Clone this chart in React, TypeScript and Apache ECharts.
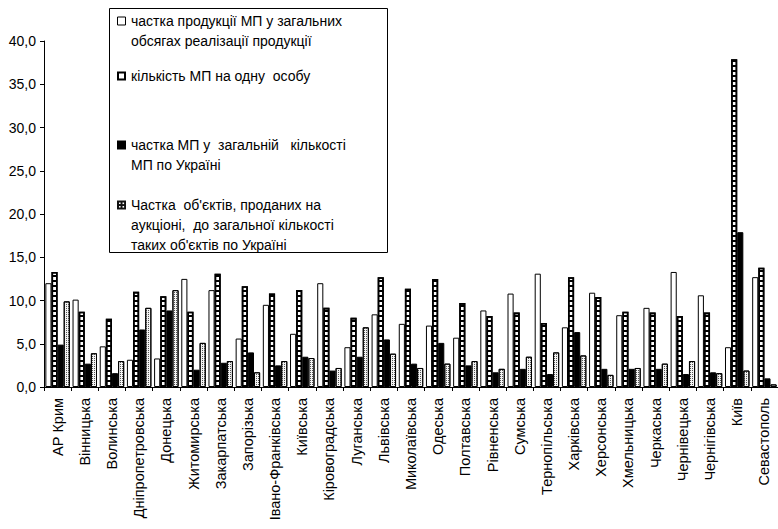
import React, { useEffect, useRef } from 'react';
import * as echarts from 'echarts';

const categories = [
  'АР Крим', 'Вінницька', 'Волинська', 'Дніпропетровська', 'Донецька', 'Житомирська',
  'Закарпатська', 'Запорізька', 'Івано-Франківська', 'Київська', 'Кіровоградська',
  'Луганська', 'Львівська', 'Миколаївська', 'Одеська', 'Полтавська', 'Рівненська',
  'Сумська', 'Тернопільська', 'Харківська', 'Херсонська', 'Хмельницька', 'Черкаська',
  'Чернівецька', 'Чернігівська', 'Київ', 'Севастополь',
];

const productionShare = [12.0, 10.1, 4.7, 3.15, 3.3, 12.5, 11.2, 5.6, 9.5, 6.15, 12.0, 4.6, 8.4, 7.3, 7.1, 5.7, 8.85, 10.8, 13.1, 6.9, 10.9, 8.3, 9.15, 13.3, 10.6, 4.6, 12.7];
const enterprisesPerPerson = [13.3, 8.7, 7.9, 11.0, 10.5, 8.7, 13.1, 11.65, 10.8, 11.2, 9.15, 8.0, 12.7, 11.35, 12.5, 9.7, 8.2, 8.6, 7.4, 12.7, 10.4, 8.7, 8.6, 8.2, 8.6, 37.9, 13.8];
const enterpriseShare = [4.9, 2.7, 1.6, 6.65, 8.85, 2.0, 2.8, 4.0, 2.5, 3.5, 1.9, 3.5, 5.5, 2.7, 5.1, 2.5, 1.7, 2.1, 1.5, 6.35, 2.1, 2.1, 2.1, 1.5, 1.7, 17.9, 1.0];
const auctionShare = [9.9, 3.9, 3.0, 9.15, 11.2, 5.1, 3.0, 1.7, 3.0, 3.35, 2.2, 6.9, 3.85, 2.2, 2.7, 3.0, 2.1, 3.5, 4.0, 3.65, 1.4, 2.2, 2.7, 3.0, 1.6, 1.9, 0.3];

const seriesLines = [
  ['частка продукції МП у загальних', 'обсягах реалізації продукції'],
  ['кількість МП на одну  особу'],
  ['частка МП у  загальній   кількості', 'МП по Україні'],
  ["Частка  об'єктів, проданих на", "аукціоні,  до загальної кількості", "таких об'єктів по Україні"],
];
const seriesNames = seriesLines.map((l) => l.join(' '));

const yMin = 0;
const yMax = 40;
const yInterval = 5;

const FONT = "'Liberation Sans', Arial, sans-serif";

export default function App() {
  const ref = useRef<HTMLDivElement>(null);

  useEffect(() => {
    if (!ref.current) return;
    const chart = echarts.init(ref.current, undefined, { renderer: 'svg' });

    const legendTop = [11, 66, 135, 195];
    const legendGraphics: any[] = [
      {
        type: 'rect',
        shape: { x: 109.5, y: 8.5, width: 278, height: 244 },
        style: { fill: '#fff', stroke: '#000', lineWidth: 1 },
        z: 10,
      },
    ];
    const iconX = 117;
    seriesLines.forEach((lines, i) => {
      const top = legendTop[i];
      const iy = top + 5.5;
      if (i === 0) {
        legendGraphics.push({ type: 'rect', shape: { x: iconX + 0.5, y: iy + 0.5, width: 8, height: 8 }, style: { fill: '#fff', stroke: '#000', lineWidth: 1 }, z: 11 });
      } else if (i === 1) {
        legendGraphics.push({ type: 'rect', shape: { x: iconX + 1, y: iy + 1, width: 7, height: 7 }, style: { fill: '#fff', stroke: '#000', lineWidth: 2 }, z: 11 });
      } else if (i === 2) {
        legendGraphics.push({ type: 'rect', shape: { x: iconX, y: iy, width: 9, height: 9 }, style: { fill: '#000' }, z: 11 });
      } else {
        legendGraphics.push({ type: 'rect', shape: { x: iconX, y: iy, width: 9, height: 9 }, style: { fill: '#111' }, z: 11 });
        [[2, 2], [5.5, 2], [2, 5.5], [5.5, 5.5]].forEach(([dx, dy]) => {
          legendGraphics.push({ type: 'rect', shape: { x: iconX + dx, y: iy + dy, width: 1.6, height: 1.6 }, style: { fill: '#fff' }, z: 12 });
        });
      }
      legendGraphics.push({
        type: 'text',
        x: 131,
        y: top,
        z: 11,
        style: {
          text: lines.join('\n'),
          fill: '#000',
          fontSize: 14,
          fontFamily: FONT,
          lineHeight: 20,
          verticalAlign: 'top',
          align: 'left',
        },
      });
    });

    chart.setOption({
      animation: false,
      backgroundColor: '#fff',
      grid: { left: 44, right: 0, top: 41, bottom: 142, containLabel: false },
      legend: { show: false },
      graphic: legendGraphics,
      xAxis: {
        type: 'category',
        data: categories,
        axisLine: { show: true, lineStyle: { color: '#000', width: 1 } },
        axisTick: { show: true, length: 4, lineStyle: { color: '#000' } },
        axisLabel: {
          rotate: 90,
          interval: 0,
          margin: 11,
          color: '#000',
          fontSize: 14.5,
          fontFamily: FONT,
        },
        splitLine: { show: false },
      },
      yAxis: {
        type: 'value',
        min: yMin,
        max: yMax,
        interval: yInterval,
        axisLine: { show: true, lineStyle: { color: '#000', width: 1 } },
        axisTick: { show: true, length: 4, lineStyle: { color: '#000' } },
        axisLabel: {
          margin: 8,
          color: '#000',
          fontSize: 14,
          fontFamily: FONT,
          formatter: (v: number) => v.toFixed(1).replace('.', ','),
        },
        splitLine: { show: false },
      },
      series: [
        {
          name: seriesNames[0],
          type: 'bar',
          data: productionShare,
          barGap: '0%',
          barCategoryGap: '10%',
          itemStyle: { color: '#fff', borderColor: '#000', borderWidth: 1 },
        },
        {
          name: seriesNames[1],
          type: 'bar',
          data: enterprisesPerPerson,
          itemStyle: {
            color: '#fff',
            borderColor: '#000',
            borderWidth: 1.6,
            decal: {
              symbol: 'rect',
              symbolSize: 1,
              symbolKeepAspect: false,
              color: '#000',
              dashArrayX: [10, 0],
              dashArrayY: [1.5, 2.5],
              rotation: 0,
            },
          },
        },
        {
          name: seriesNames[2],
          type: 'bar',
          data: enterpriseShare,
          itemStyle: { color: '#000', borderColor: '#000', borderWidth: 1 },
        },
        {
          name: seriesNames[3],
          type: 'bar',
          data: auctionShare,
          itemStyle: {
            color: '#f4f4f4',
            borderColor: '#000',
            borderWidth: 1,
            decal: {
              symbol: 'rect',
              symbolSize: 1,
              symbolKeepAspect: false,
              color: '#555',
              dashArrayX: [1, 1],
              dashArrayY: [1, 1],
              rotation: 0,
            },
          },
        },
      ],
    });

    return () => chart.dispose();
  }, []);

  return (
    <div
      ref={ref}
      style={{ position: 'fixed', left: 0, top: 0, width: 778, height: 529, background: '#fff' }}
    />
  );
}
